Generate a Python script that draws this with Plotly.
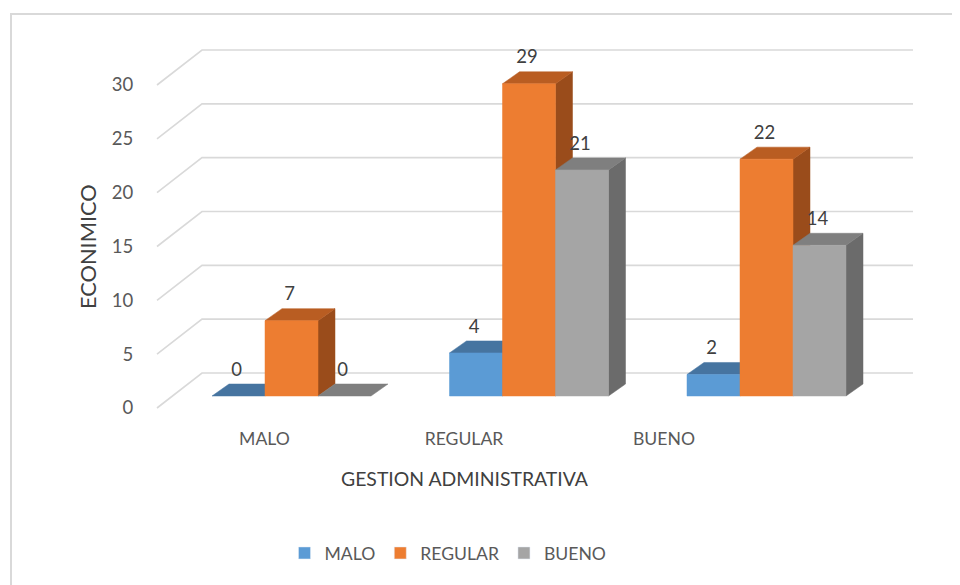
import plotly.graph_objects as go

# ---------------- data ----------------
categories = ["MALO", "REGULAR", "BUENO"]
series_names = ["MALO", "REGULAR", "BUENO"]
malo_vals = [0, 4, 2]
regular_vals = [7, 29, 22]
bueno_vals = [0, 21, 14]
y_tick_vals = [0, 5, 10, 15, 20, 25, 30]

series_values = [malo_vals, regular_vals, bueno_vals]
front_colors = ["#5B9BD5", "#ED7D31", "#A5A5A5"]
top_colors = ["#4674A0", "#B95D22", "#7F7F7F"]
side_colors = ["#3D6690", "#9A4C1B", "#6B6B6B"]

# ---------------- geometry ----------------
# all reference positions are in page pixels; the figure sits 8px in (body margin)
OFF = 8
W, H = 960, 585
ML, MR, MT, MB = 140, 0, 0, 175
PAGE_PLOT_LEFT = ML + OFF
PAGE_PLOT_RIGHT = W - MR + OFF
PAGE_PLOT_TOP = MT + OFF
PAGE_PLOT_BOTTOM = H - MB + OFF
ZERO_PX = 408
PX_PER_UNIT = (408 - 85) / 30.0


def yv(px):
    return (ZERO_PX - px) / PX_PER_UNIT


def px_paper_x(px):
    return (px - PAGE_PLOT_LEFT) / (PAGE_PLOT_RIGHT - PAGE_PLOT_LEFT)


def px_paper_y(px):
    return (PAGE_PLOT_BOTTOM - px) / (PAGE_PLOT_BOTTOM - PAGE_PLOT_TOP)


WALL_DX = 45
WALL_DY = 35 / PX_PER_UNIT
WALL_X0 = 157
WALL_X1 = 913

GROUP_LEFT0 = 212
GROUP_STEP = 237.5
BAR_W = 53
BAR_DX = 17
BAR_DY = 12 / PX_PER_UNIT
BAR_BASE = 12 / PX_PER_UNIT
LABEL_GAP = 13 / PX_PER_UNIT
CAT_LABEL_X = [264.5, 464, 664]

FONT = "Lato, 'Open Sans', sans-serif"
TEXT_COLOR = "#595959"
FS = 17.6
FS_NUM = 18.5

fig = go.Figure()

# gridlines (3D wall)
gx, gy = [], []
for t in y_tick_vals:
    gx += [WALL_X0, WALL_X0 + WALL_DX, WALL_X1, None]
    gy += [t, t + WALL_DY, t + WALL_DY, None]
fig.add_trace(go.Scatter(x=gx, y=gy, mode="lines",
                         line=dict(color="#D9D9D9", width=1.6),
                         hoverinfo="skip", showlegend=False))


def poly(xs, ys, color):
    fig.add_trace(go.Scatter(x=xs + [xs[0]], y=ys + [ys[0]], mode="lines",
                             fill="toself", fillcolor=color,
                             line=dict(color=color, width=0.5),
                             hoverinfo="skip", showlegend=False))


lab_x, lab_y, lab_t = [], [], []
for gi in range(len(categories)):
    for si in range(len(series_names)):
        v = series_values[si][gi]
        L = GROUP_LEFT0 + gi * GROUP_STEP + si * BAR_W
        R = L + BAR_W
        b = BAR_BASE
        top = b + v
        if v > 0:
            poly([R, R + BAR_DX, R + BAR_DX, R],
                 [b, b + BAR_DY, top + BAR_DY, top], side_colors[si])
        poly([L, R, R + BAR_DX, L + BAR_DX],
             [top, top, top + BAR_DY, top + BAR_DY], top_colors[si])
        if v > 0:
            poly([L, R, R, L], [b, b, top, top], front_colors[si])
        lab_x.append(L + BAR_W / 2 - 2)
        lab_y.append(top + BAR_DY + LABEL_GAP)
        lab_t.append(str(v))

fig.add_trace(go.Scatter(x=lab_x, y=lab_y, text=lab_t, mode="text",
                         textfont=dict(family=FONT, size=FS_NUM, color="#404040"),
                         textposition="middle center", cliponaxis=False,
                         hoverinfo="skip", showlegend=False))

# legend entries
for si, name in enumerate(series_names):
    fig.add_trace(go.Bar(x=[None], y=[None], name=name,
                         marker=dict(color=front_colors[si]), showlegend=True))

fig.update_layout(
    width=W, height=H,
    margin=dict(l=ML, r=MR, t=MT, b=MB, pad=0),
    paper_bgcolor="white", plot_bgcolor="white",
    font=dict(family=FONT, size=FS, color=TEXT_COLOR),
    xaxis=dict(type="linear", range=[PAGE_PLOT_LEFT, PAGE_PLOT_RIGHT],
               showgrid=False, zeroline=False, showline=False,
               tickmode="array", tickvals=CAT_LABEL_X, ticktext=categories,
               ticks="outside", ticklen=5, tickcolor="rgba(0,0,0,0)",
               tickfont=dict(size=FS, color=TEXT_COLOR), fixedrange=True),
    yaxis=dict(range=[yv(PAGE_PLOT_BOTTOM), yv(PAGE_PLOT_TOP)], showgrid=False,
               zeroline=False, showline=False, tickmode="array",
               tickvals=y_tick_vals, ticks="outside", ticklen=10,
               tickcolor="rgba(0,0,0,0)",
               tickfont=dict(size=FS_NUM, color=TEXT_COLOR), fixedrange=True),
    showlegend=True,
    legend=dict(orientation="h", x=px_paper_x(448), xanchor="center",
                y=px_paper_y(553), yanchor="middle",
                font=dict(size=FS, color=TEXT_COLOR), bgcolor="rgba(0,0,0,0)"),
    annotations=[
        dict(text="GESTION ADMINISTRATIVA", xref="paper", yref="paper",
             x=px_paper_x(464.5), y=px_paper_y(479), showarrow=False,
             xanchor="center", yanchor="middle",
             font=dict(size=19.4, color="#404040")),
        dict(text="ECONIMICO", xref="paper", yref="paper",
             x=px_paper_x(87), y=px_paper_y(247), showarrow=False,
             textangle=-90, xanchor="center", yanchor="middle",
             font=dict(size=21.8, color="#404040")),
    ],
    shapes=[
        dict(type="rect", xref="paper", yref="paper",
             x0=px_paper_x(11), x1=px_paper_x(990),
             y0=px_paper_y(620), y1=px_paper_y(14),
             line=dict(color="#D9D9D9", width=2), fillcolor="rgba(0,0,0,0)",
             layer="below"),
    ],
)

fig.write_html("out.html")
